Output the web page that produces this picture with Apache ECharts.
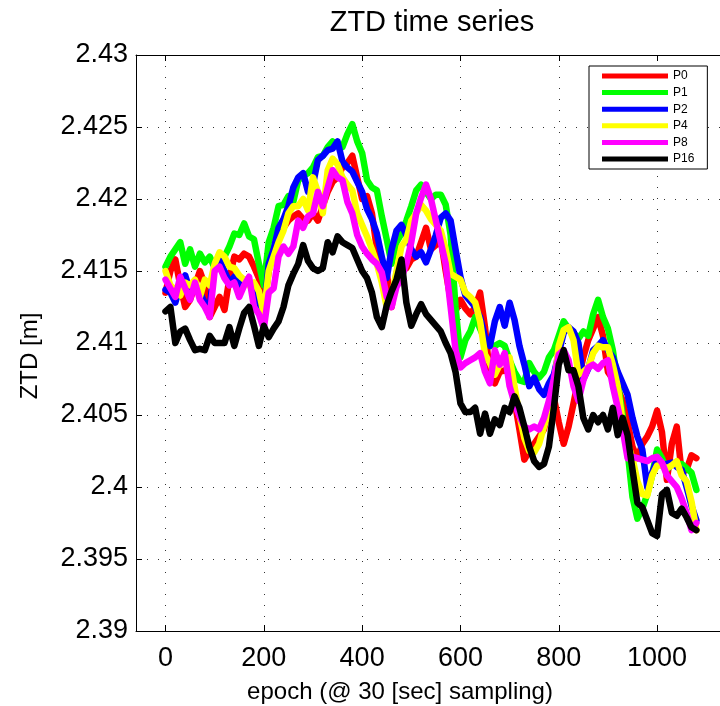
<!DOCTYPE html>
<html><head><meta charset="utf-8">
<script src="https://cdn.jsdelivr.net/npm/echarts@6/dist/echarts.min.js"></script>
<style>html,body{margin:0;padding:0;background:#fff}#c{width:720px;height:706px}</style>
</head><body><div id="c"></div>
<script>
const epochs = [0,10,20,30,40,50,60,70,80,90,100,110,120,130,140,150,160,170,180,190,200,210,220,230,240,250,260,270,280,290,300,310,320,330,340,350,360,370,380,390,400,410,420,430,440,450,460,470,480,490,500,510,520,530,540,550,560,570,580,590,600,610,620,630,640,650,660,670,680,690,700,710,720,730,740,750,760,770,780,790,800,810,820,830,840,850,860,870,880,890,900,910,920,930,940,950,960,970,980,990,1000,1010,1020,1030,1040,1050,1060,1070,1080];

const P0 = [2.4135,2.4150,2.4158,2.4140,2.4125,2.4130,2.4140,2.4150,2.4140,2.4118,
2.4125,2.4132,2.4123,2.4145,2.4160,2.4158,2.4162,2.4160,2.4153,2.4145,
2.4125,2.4150,2.4165,2.4175,2.4180,2.4185,2.4188,2.4190,2.4186,2.4185,
2.4190,2.4185,2.4195,2.4205,2.4212,2.4215,2.4222,2.4225,2.4230,2.4215,
2.4200,2.4202,2.4190,2.4165,2.4152,2.4149,2.4125,2.4149,2.4150,2.4152,
2.4158,2.4160,2.4170,2.4180,2.4165,2.4168,2.4172,2.4150,2.4130,2.4122,
2.4130,2.4124,2.4120,2.4125,2.4135,2.4111,2.4076,2.4072,2.4080,2.4081,
2.4079,2.4060,2.4040,2.4019,2.4025,2.4030,2.4035,2.4040,2.4055,2.4062,
2.4045,2.4030,2.4042,2.4058,2.4075,2.4090,2.4102,2.4110,2.4118,2.4105,
2.4080,2.4075,2.4068,2.4060,2.4045,2.4028,2.4020,2.4030,2.4035,2.4042,
2.4053,2.4038,2.4005,2.4030,2.4042,2.4010,2.4012,2.4022,2.4020];

const P1 = [2.4153,2.4160,2.4165,2.4170,2.4155,2.4165,2.4153,2.4162,2.4156,2.4160,
2.4152,2.4158,2.4160,2.4167,2.4176,2.4175,2.4183,2.4174,2.4172,2.4155,
2.4140,2.4170,2.4180,2.4195,2.4196,2.4202,2.4198,2.4213,2.4216,2.4218,
2.4222,2.4229,2.4230,2.4236,2.4240,2.4237,2.4236,2.4245,2.4252,2.4240,
2.4232,2.4213,2.4208,2.4206,2.4188,2.4172,2.4155,2.4170,2.4176,2.4185,
2.4195,2.4206,2.4210,2.4205,2.4200,2.4203,2.4203,2.4196,2.4175,2.4125,
2.4090,2.4102,2.4108,2.4118,2.4110,2.4102,2.4098,2.4098,2.4100,2.4098,
2.4088,2.4080,2.4074,2.4073,2.4086,2.4080,2.4076,2.4080,2.4090,2.4095,
2.4105,2.4115,2.4110,2.4107,2.4103,2.4108,2.4105,2.4120,2.4130,2.4118,
2.4110,2.4095,2.4072,2.4050,2.4025,2.3993,2.3978,2.3985,2.3995,2.4008,
2.4026,2.4020,2.4012,2.4016,2.4015,2.4016,2.4013,2.4010,2.3998];

const P2 = [2.4137,2.4135,2.4128,2.4140,2.4147,2.4136,2.4140,2.4135,2.4128,2.4125,
2.4155,2.4158,2.4150,2.4142,2.4146,2.4140,2.4144,2.4142,2.4138,2.4128,
2.4120,2.4155,2.4165,2.4180,2.4186,2.4195,2.4208,2.4215,2.4218,2.4205,
2.4210,2.4227,2.4230,2.4234,2.4235,2.4240,2.4226,2.4222,2.4219,2.4212,
2.4205,2.4193,2.4186,2.4176,2.4160,2.4145,2.4165,2.4178,2.4182,2.4175,
2.4165,2.4160,2.4163,2.4156,2.4165,2.4175,2.4187,2.4190,2.4185,2.4165,
2.4146,2.4133,2.4129,2.4125,2.4118,2.4104,2.4098,2.4115,2.4125,2.4112,
2.4128,2.4116,2.4098,2.4085,2.4070,2.4076,2.4068,2.4064,2.4072,2.4078,
2.4093,2.4107,2.4111,2.4108,2.4100,2.4075,2.4082,2.4095,2.4098,2.4102,
2.4095,2.4090,2.4080,2.4072,2.4064,2.4048,2.4035,2.4026,2.4000,2.4010,
2.4019,2.4015,2.4016,2.4017,2.4014,2.4012,2.4000,2.3987,2.3977];

const P4 = [2.4150,2.4140,2.4137,2.4133,2.4142,2.4140,2.4144,2.4132,2.4144,2.4140,
2.4155,2.4163,2.4160,2.4153,2.4152,2.4147,2.4144,2.4140,2.4142,2.4136,
2.4120,2.4150,2.4160,2.4170,2.4178,2.4190,2.4195,2.4195,2.4200,2.4192,
2.4215,2.4205,2.4190,2.4220,2.4228,2.4224,2.4215,2.4210,2.4206,2.4190,
2.4182,2.4174,2.4165,2.4155,2.4142,2.4125,2.4132,2.4150,2.4167,2.4172,
2.4185,2.4190,2.4196,2.4192,2.4186,2.4182,2.4178,2.4165,2.4148,2.4146,
2.4144,2.4135,2.4132,2.4128,2.4115,2.4092,2.4086,2.4078,2.4085,2.4088,
2.4090,2.4070,2.4050,2.4034,2.4025,2.4024,2.4030,2.4042,2.4053,2.4070,
2.4098,2.4109,2.4111,2.4102,2.4078,2.4080,2.4083,2.4093,2.4098,2.4097,
2.4097,2.4085,2.4070,2.4045,2.4030,2.4020,2.4004,2.3995,2.3994,2.4008,
2.4015,2.4015,2.4013,2.4015,2.4018,2.4008,2.4004,2.3990,2.3970];

const P8 = [2.4144,2.4138,2.4132,2.4146,2.4138,2.4130,2.4142,2.4130,2.4125,2.4118,
2.4150,2.4153,2.4145,2.4140,2.4142,2.4132,2.4140,2.4146,2.4125,2.4120,
2.4110,2.4135,2.4138,2.4160,2.4167,2.4162,2.4167,2.4185,2.4180,2.4188,
2.4190,2.4205,2.4195,2.4208,2.4220,2.4215,2.4213,2.4198,2.4190,2.4175,
2.4167,2.4162,2.4158,2.4155,2.4149,2.4132,2.4125,2.4139,2.4145,2.4155,
2.4170,2.4190,2.4201,2.4210,2.4200,2.4185,2.4170,2.4155,2.4125,2.4095,
2.4083,2.4086,2.4088,2.4090,2.4093,2.4080,2.4072,2.4095,2.4085,2.4093,
2.4070,2.4058,2.4049,2.4042,2.4040,2.4042,2.4040,2.4048,2.4060,2.4075,
2.4092,2.4095,2.4088,2.4070,2.4060,2.4074,2.4083,2.4085,2.4082,2.4086,
2.4088,2.4070,2.4055,2.4040,2.4020,2.4021,2.4020,2.4019,2.4018,2.4020,
2.4021,2.4017,2.4008,2.4004,2.4000,2.3992,2.3982,2.3970,2.3975];

const P16 = [2.4122,2.4125,2.4100,2.4108,2.4110,2.4102,2.4095,2.4096,2.4095,2.4105,
2.4100,2.4100,2.4100,2.4111,2.4098,2.4110,2.4121,2.4125,2.4112,2.4098,
2.4112,2.4104,2.4110,2.4115,2.4125,2.4140,2.4148,2.4155,2.4168,2.4157,
2.4152,2.4150,2.4152,2.4170,2.4163,2.4174,2.4170,2.4168,2.4166,2.4158,
2.4150,2.4145,2.4135,2.4118,2.4111,2.4126,2.4136,2.4144,2.4158,2.4128,
2.4112,2.4120,2.4127,2.4120,2.4116,2.4112,2.4108,2.4100,2.4093,2.4080,
2.4058,2.4052,2.4052,2.4055,2.4037,2.4051,2.4037,2.4047,2.4043,2.4055,
2.4052,2.4063,2.4055,2.4042,2.4028,2.4018,2.4014,2.4016,2.4028,2.4055,
2.4085,2.4095,2.4081,2.4081,2.4070,2.4048,2.4040,2.4050,2.4045,2.4050,
2.4040,2.4055,2.4036,2.4048,2.4036,2.4012,2.3989,2.3986,2.3977,2.3968,
2.3966,2.3995,2.3998,2.3982,2.3980,2.3985,2.3979,2.3972,2.3970];

const seriesNames = ['P0','P1','P2','P4','P8','P16'];
const seriesValues = [P0, P1, P2, P4, P8, P16];
const seriesColors = ['#ff0000','#00ff00','#0000ff','#ffff00','#ff00ff','#000000'];

const titleText = 'ZTD time series';
const xName = 'epoch (@ 30 [sec] sampling)';
const yName = 'ZTD [m]';

const FONT = "'Liberation Sans', Arial, Helvetica, sans-serif";
const gridStyle = {color:'#333', type:[1,10], width:1};

const chart = echarts.init(document.getElementById('c'), null, {renderer:'canvas'});
chart.setOption({
  animation: false,
  backgroundColor: '#fff',
  title: {text: titleText, left: 432, top: 8, textAlign: 'center', padding: 0,
    textStyle: {fontFamily: FONT, fontSize: 29, fontWeight: 'normal', color: '#000'}},
  legend: {orient: 'vertical', left: 589, top: 66, icon: 'rect', itemWidth: 66, itemHeight: 5,
    itemGap: 4.6, itemTextGap: 4, padding: [4, 13, 4, 13], borderColor: '#000', borderWidth: 1,
    backgroundColor: '#fff', borderRadius: 0, selectedMode: false,
    textStyle: {fontFamily: FONT, fontSize: 12, lineHeight: 12, color: '#000'},
    data: seriesNames},
  grid: {left: 136, top: 55, width: 584, height: 576, show: false, containLabel: false},
  xAxis: [{type: 'value', min: -60, max: 1128, splitNumber: 6,
      axisLine: {show: true, onZero: false, lineStyle: {color: '#000', width: 1}},
      axisTick: {show: true, inside: true, length: 6, lineStyle: {color: '#000'}},
      axisLabel: {showMinLabel: false, showMaxLabel: false, margin: 14, fontSize: 27, color: '#000', fontFamily: FONT,
        formatter: v => String(v)},
      splitLine: {show: true, lineStyle: gridStyle}},
    {type: 'value', position: 'top', min: -60, max: 1128, splitNumber: 6,
      axisLine: {show: true, onZero: false, lineStyle: {color: '#000', width: 1}},
      axisTick: {show: true, inside: true, length: 6, lineStyle: {color: '#000'}},
      axisLabel: {show: false}, splitLine: {show: false}}],
  yAxis: {type: 'value', min: 2.39, max: 2.43, interval: 0.005,
    axisLine: {show: true, onZero: false, lineStyle: {color: '#000', width: 1}},
    axisTick: {show: true, inside: true, length: 6, lineStyle: {color: '#000'}},
    axisLabel: {margin: 8, fontSize: 27, color: '#000', fontFamily: FONT,
      formatter: v => String(parseFloat(v.toFixed(3)))},
    splitLine: {show: true, lineStyle: gridStyle}},
  graphic: [
    {type: 'text', x: 400, y: 692, silent: true,
      style: {text: xName, fill: '#000', fontSize: 24, fontFamily: FONT, align: 'center', verticalAlign: 'middle'}},
    {type: 'text', x: 30, y: 356, rotation: Math.PI / 2, silent: true,
      style: {text: yName, fill: '#000', fontSize: 24, fontFamily: FONT, align: 'center', verticalAlign: 'middle'}}
  ],
  series: seriesNames.map((n, k) => ({
    name: n, type: 'line', xAxisIndex: 0, yAxisIndex: 0,
    data: epochs.map((e, i) => [e, seriesValues[k][i]]),
    symbol: 'none', showSymbol: false, smooth: false, clip: true,
    lineStyle: {width: 6.5, color: seriesColors[k], join: 'round', cap: 'round'},
    itemStyle: {color: seriesColors[k]},
    emphasis: {disabled: true}
  }))
});
</script>
</body></html>
